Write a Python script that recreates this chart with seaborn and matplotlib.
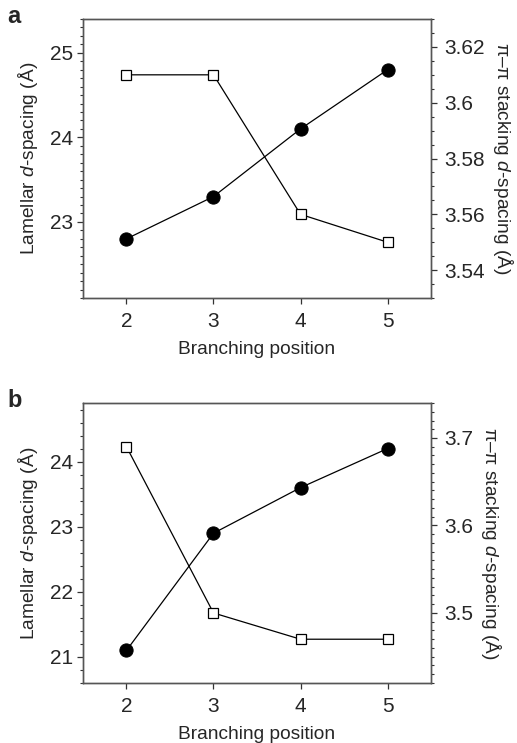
import seaborn as sns
import pandas as pd
import matplotlib.pyplot as plt
from matplotlib.ticker import MultipleLocator, FuncFormatter

# Branching position on x
positions = [2, 3, 4, 5]

# panel a
a_lamellar = [22.8, 23.3, 24.1, 24.8]
a_pipi = [3.61, 3.61, 3.56, 3.55]

# panel b
b_lamellar = [21.1, 22.9, 23.6, 24.2]
b_pipi = [3.69, 3.50, 3.47, 3.47]

sns.set_style("ticks")
plt.rcParams["font.family"] = ["Liberation Sans", "DejaVu Sans"]
plt.rcParams["mathtext.fontset"] = "custom"
plt.rcParams["mathtext.rm"] = "Liberation Sans"
plt.rcParams["mathtext.it"] = "Liberation Sans:italic"

fig = plt.figure(figsize=(5.17, 7.43), dpi=100)

left_lbl = "Lamellar $\\it{d}$-spacing (Å)"
right_lbl = "π–π stacking $\\it{d}$-spacing (Å)"
fmt = FuncFormatter(lambda v, p: f"{v:g}")

panels = [
    dict(letter="a", box=[0.1605, 0.5989, 0.6732, 0.3755], lam=a_lamellar, pp=a_pipi,
         ylim_l=(22.1, 25.4), maj_l=1, min_l=0.1,
         ylim_r=(3.53, 3.63), maj_r=0.02, min_r=0.005, rpad=22),
    dict(letter="b", box=[0.1605, 0.0808, 0.6732, 0.3768], lam=b_lamellar, pp=b_pipi,
         ylim_l=(20.6, 24.9), maj_l=1, min_l=0.2,
         ylim_r=(3.42, 3.74), maj_r=0.1, min_r=0.01, rpad=22),
]

for p in panels:
    ax = fig.add_axes(p["box"])
    ax2 = ax.twinx()

    df = pd.DataFrame({"pos": positions, "lam": p["lam"], "pp": p["pp"]})

    sns.lineplot(data=df, x="pos", y="pp", ax=ax2, color="black", lw=0.9,
                 marker="s", markersize=7.5, markerfacecolor="white",
                 markeredgecolor="black", markeredgewidth=0.9, zorder=2)
    sns.lineplot(data=df, x="pos", y="lam", ax=ax, color="black", lw=0.9,
                 marker="o", markersize=9.5, markeredgecolor="black", zorder=3)

    ax.set_xlim(1.5, 5.5)
    ax.set_xticks(positions)
    ax.set_ylim(*p["ylim_l"])
    ax.yaxis.set_major_locator(MultipleLocator(p["maj_l"]))
    ax.yaxis.set_minor_locator(MultipleLocator(p["min_l"]))
    ax.yaxis.set_major_formatter(fmt)
    ax2.set_ylim(*p["ylim_r"])
    ax2.yaxis.set_major_locator(MultipleLocator(p["maj_r"]))
    ax2.yaxis.set_minor_locator(MultipleLocator(p["min_r"]))
    ax2.yaxis.set_major_formatter(fmt)

    ax.set_xlabel("Branching position", fontsize=13.8, labelpad=7)
    ax.set_ylabel(left_lbl, fontsize=13.8, labelpad=7)
    ax2.set_ylabel(right_lbl, fontsize=13.8, rotation=270, labelpad=p["rpad"])

    for a in (ax, ax2):
        for s in a.spines.values():
            s.set_color("#555555")
            s.set_linewidth(1.0)
        a.tick_params(axis="both", which="major", length=4.2, width=0.9,
                      color="#333333", labelsize=15, pad=3)
        a.tick_params(axis="y", which="minor", length=2.3, width=0.8, color="#333333")
    ax.tick_params(axis="x", which="major", pad=6)
    ax2.tick_params(axis="y", which="major", pad=5)
    ax.tick_params(axis="x", which="minor", bottom=False)
    ax2.set_xlabel("")

    fig.text(0.014, p["box"][1] + p["box"][3] + 0.003, p["letter"],
             fontsize=17, fontweight="bold", va="center", ha="left")

fig.savefig("out.png", dpi=100)
